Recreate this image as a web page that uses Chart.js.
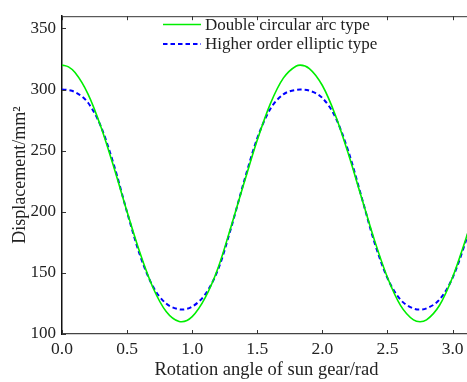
<!DOCTYPE html>
<html>
<head>
<meta charset="utf-8">
<script src="https://cdn.jsdelivr.net/npm/chart.js@4.4.0/dist/chart.umd.min.js"></script>
<style>
  html, body { margin: 0; padding: 0; overflow: hidden; background: #fff; }
  #wrap { width: 471px; height: 382px; }
</style>
</head>
<body>
<div id="wrap"><canvas id="chart"></canvas></div>
<script>
// --- data ---
const angles = [0, 0.05, 0.1, 0.2, 0.3, 0.4, 0.5, 0.6, 0.7, 0.8, 0.9, 0.92, 1.0, 1.1, 1.2, 1.3, 1.4, 1.5,
  1.6, 1.7, 1.8, 1.83, 1.9, 2.0, 2.1, 2.2, 2.3, 2.4, 2.5, 2.6, 2.7, 2.75, 2.8, 2.9, 3.0, 3.1, 3.14];
const doubleArc = [320, 318.5, 313.9, 296.3, 269.2, 235.8, 200.0, 166.0, 137.6, 118.4, 110.2, 110.0, 114.2, 129.7,
  154.4, 188.4, 224.1, 258.7, 288.3, 309.3, 319.3, 320.0, 317.2, 303.3, 279.0, 247.2, 211.9, 176.8, 146.2,
  123.4, 111.5, 110.0, 111.6, 123.5, 146.4, 177.2, 190.7];
const elliptic = [300, 299.5, 297.9, 289.2, 269.5, 237.8, 199.6, 164.1, 138.6, 124.9, 120.2, 120.0, 122.4, 132.5,
  153.0, 187.2, 225.5, 260.2, 284.1, 296.0, 299.8, 300.0, 299.1, 293.1, 277.4, 249.3, 212.5, 175.0, 145.7,
  128.1, 120.9, 120.0, 121.0, 128.2, 145.9, 175.4, 189.6];
const xTicks = [0, 0.5, 1.0, 1.5, 2.0, 2.5, 3.0];
const yTicks = [100, 150, 200, 250, 300, 350];

const FONT = 'Liberation Serif';
const INK = '#222';

// frame on top edge, inward tick marks, and the legend inside the plot
const framePlugin = {
  id: 'frame',
  afterDraw(chart) {
    const { ctx, chartArea: a, scales: { x, y } } = chart;
    ctx.save();
    ctx.strokeStyle = '#333';
    ctx.lineWidth = 1;
    ctx.beginPath();
    ctx.moveTo(a.left, a.top + 0.5);
    ctx.lineTo(a.right, a.top + 0.5);
    xTicks.forEach(v => {
      const px = Math.round(x.getPixelForValue(v)) + 0.5;
      ctx.moveTo(px, a.bottom); ctx.lineTo(px, a.bottom - 4);
      ctx.moveTo(px, a.top); ctx.lineTo(px, a.top + 4);
    });
    yTicks.forEach(v => {
      const py = Math.round(y.getPixelForValue(v)) + 0.5;
      ctx.moveTo(a.left, py); ctx.lineTo(a.left + 4, py);
    });
    ctx.stroke();

    // legend
    ctx.font = '17px "' + FONT + '"';
    ctx.textBaseline = 'middle';
    ctx.fillStyle = INK;
    chart.data.datasets.forEach((ds, i) => {
      const ly = 24.5 + i * 19.5;
      ctx.beginPath();
      ctx.strokeStyle = ds.borderColor;
      ctx.lineWidth = ds.borderWidth;
      ctx.setLineDash(ds.borderDash || []);
      ctx.moveTo(163, ly); ctx.lineTo(201, ly);
      ctx.stroke();
      ctx.setLineDash([]);
      ctx.fillText(ds.label, 205, ly + 1);
    });
    ctx.restore();
  }
};

new Chart(document.getElementById('chart'), {
  type: 'line',
  data: {
    labels: angles,
    datasets: [
      { label: 'Double circular arc type', data: angles.map((a, i) => ({ x: a, y: doubleArc[i] })),
        borderColor: '#00ee00', borderWidth: 1.6, pointRadius: 0, cubicInterpolationMode: 'monotone' },
      { label: 'Higher order elliptic type', data: angles.map((a, i) => ({ x: a, y: elliptic[i] })),
        borderColor: '#0000ff', borderWidth: 2, borderDash: [4.5, 3], pointRadius: 0, cubicInterpolationMode: 'monotone' }
    ]
  },
  options: {
    responsive: true,
    maintainAspectRatio: false,
    animation: false,
    devicePixelRatio: 1,
    layout: { padding: { top: 6, right: 0, left: 0, bottom: 0 } },
    plugins: { legend: { display: false }, tooltip: { enabled: false } },
    scales: {
      x: {
        type: 'linear', min: 0, max: 3.1416,
        afterBuildTicks: s => { s.ticks = xTicks.map(v => ({ value: v })); },
        afterFit: s => { s.height = 48; },
        grid: { display: false, drawTicks: false },
        border: { display: true, color: '#444', width: 1.2 },
        ticks: { padding: 5, color: INK, font: { family: FONT, size: 17.5 }, callback: v => v.toFixed(1), maxRotation: 0 },
        title: { display: true, text: 'Rotation angle of sun gear/rad', color: INK,
                 font: { family: FONT, size: 18.5 }, padding: { top: 0, bottom: 1 } }
      },
      y: {
        min: 100, max: 360,
        afterBuildTicks: s => { s.ticks = yTicks.map(v => ({ value: v })); },
        afterFit: s => { s.width = 62; },
        grid: { display: false, drawTicks: false },
        border: { display: true, color: '#111', width: 1.5 },
        ticks: { padding: 6, color: INK, font: { family: FONT, size: 17 } },
        title: { display: true, text: 'Displacement/mm\u00b2', color: INK,
                 font: { family: FONT, size: 18 }, padding: { top: 9, bottom: 0 } }
      }
    }
  },
  plugins: [framePlugin]
});
</script>
</body>
</html>
